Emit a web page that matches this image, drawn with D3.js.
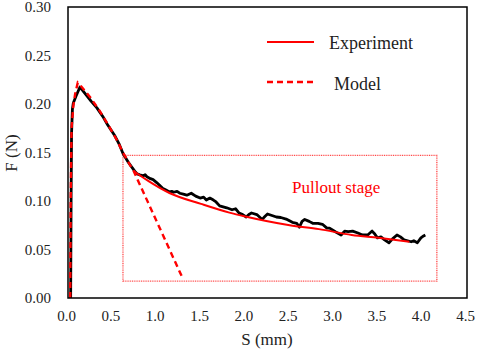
<!DOCTYPE html>
<html>
<head>
<meta charset="utf-8">
<script src="https://cdn.jsdelivr.net/npm/d3@7"></script>
<style>
html,body{margin:0;padding:0;background:#fff;}
svg text{font-family:"Liberation Serif","Times New Roman","DejaVu Serif",serif !important;}
</style>
</head>
<body>
<svg id="chart" width="477" height="351"></svg>
<script>
// Tick labels
const xTicks = [0, 0.5, 1.0, 1.5, 2.0, 2.5, 3.0, 3.5, 4.0, 4.5];
const yTicks = [0, 0.05, 0.10, 0.15, 0.20, 0.25, 0.30];

// Measured (noisy) data: S (mm), F (N)
const measuredS = [0.03,0.035,0.04,0.05,0.06,0.09,0.135,0.2,0.26,0.326,0.4,0.45,0.53,0.58,0.62,0.68,0.75,0.78,0.81,0.85,0.87,0.89,0.93,0.96,1.0,1.03,1.07,1.11,1.15,1.17,1.19,1.23,1.26,1.30,1.34,1.39,1.44,1.49,1.53,1.56,1.60,1.64,1.67,1.71,1.75,1.79,1.85,1.89,1.93,1.97,2.01,2.04,2.07,2.13,2.19,2.22,2.25,2.30,2.35,2.40,2.46,2.53,2.58,2.61,2.64,2.67,2.72,2.76,2.82,2.87,2.92,2.95,3.02,3.08,3.12,3.16,3.21,3.27,3.32,3.38,3.43,3.46,3.49,3.53,3.57,3.62,3.66,3.71,3.75,3.79,3.83,3.87,3.90,3.94,3.98,4.01,4.03];
const measuredF = [0,0.10,0.17,0.195,0.201,0.208,0.2175,0.210,0.203,0.196,0.186,0.178,0.167,0.158,0.149,0.140,0.131,0.128,0.127,0.126,0.127,0.125,0.123,0.122,0.119,0.1165,0.113,0.111,0.109,0.110,0.109,0.110,0.108,0.107,0.106,0.108,0.105,0.103,0.104,0.101,0.103,0.101,0.099,0.095,0.094,0.093,0.091,0.092,0.0876,0.086,0.0835,0.086,0.0876,0.086,0.081,0.084,0.0866,0.085,0.0835,0.083,0.0814,0.078,0.077,0.073,0.079,0.081,0.079,0.077,0.077,0.076,0.072,0.072,0.068,0.065,0.069,0.0685,0.069,0.067,0.065,0.065,0.069,0.066,0.062,0.063,0.060,0.057,0.061,0.065,0.063,0.060,0.059,0.058,0.059,0.057,0.062,0.064,0.065];

// Experiment fit (solid red)
const experimentS = [0.74,0.9,1.15,1.5,1.82,2.0,2.5,2.83,3.2,3.5,3.85];
const experimentF = [0.131,0.121,0.108,0.097,0.088,0.084,0.075,0.071,0.065,0.062,0.058];

// Model (dashed red)
const modelS = [0.025,0.03,0.04,0.06,0.08,0.11,0.15,0.25,0.35,0.45,0.55,0.62,0.70,0.74,1.29];
const modelF = [0,0.10,0.175,0.198,0.210,0.222,0.218,0.207,0.194,0.179,0.163,0.150,0.137,0.131,0.021];

// Pullout stage box (data units)
const boxS = [0.62, 4.16];
const boxF = [0.0175, 0.147];

const FONT = '"Liberation Serif","Times New Roman","DejaVu Serif",serif';
const svg = d3.select("#chart");
const L = 68, R = 467, T = 7, B = 298;
const x = d3.scaleLinear().domain([0, 4.5]).range([L, R]);
const y = d3.scaleLinear().domain([0, 0.30]).range([B, T]);

// Pullout box
svg.append("rect")
  .attr("x", x(boxS[0])).attr("y", y(boxF[1]))
  .attr("width", x(boxS[1]) - x(boxS[0]))
  .attr("height", y(boxF[0]) - y(boxF[1]))
  .attr("fill", "none").attr("stroke", "#ff4a4a")
  .attr("stroke-width", 1.3).attr("stroke-dasharray", "1,0.8");

svg.append("text").attr("x", 292).attr("y", 193).attr("font-family", FONT)
  .attr("fill", "red").attr("font-size", 17).text("Pullout stage");

const line = d3.line().x(d => x(d[0])).y(d => y(d[1]));

svg.append("path")
  .datum(measuredS.map((s, i) => [s, measuredF[i]]))
  .attr("d", line).attr("fill", "none").attr("stroke", "#000")
  .attr("stroke-width", 2.8).attr("stroke-linejoin", "round");

svg.append("path")
  .datum(experimentS.map((s, i) => [s, experimentF[i]]))
  .attr("d", d3.line().curve(d3.curveMonotoneX).x(d => x(d[0])).y(d => y(d[1])))
  .attr("fill", "none").attr("stroke", "red").attr("stroke-width", 2);

svg.append("path")
  .datum(modelS.map((s, i) => [s, modelF[i]]))
  .attr("d", line).attr("fill", "none").attr("stroke", "red")
  .attr("stroke-width", 2.4).attr("stroke-dasharray", "6,4");

// Frame
svg.append("rect").attr("x", L).attr("y", T).attr("width", R - L).attr("height", B - T)
  .attr("fill", "none").attr("stroke", "#000").attr("stroke-width", 1.5);

// Axes labels (ticks)
const xAxis = d3.axisBottom(x).tickValues(xTicks).tickSize(0).tickPadding(12)
  .tickFormat(d3.format(".1f"));
const gx = svg.append("g").attr("transform", `translate(-2,${B})`).call(xAxis);
gx.attr("font-family", FONT).attr("font-size", 15);
gx.select(".domain").remove();
gx.selectAll("text").attr("fill", "#222");

const yAxis = d3.axisLeft(y).tickValues(yTicks).tickSize(0).tickPadding(17)
  .tickFormat(d3.format(".2f"));
const gy = svg.append("g").attr("transform", `translate(${L},0)`).call(yAxis);
gy.attr("font-family", FONT).attr("font-size", 15);
gy.select(".domain").remove();
gy.selectAll("text").attr("fill", "#222");

svg.append("text").attr("x", 267).attr("y", 345).attr("text-anchor", "middle").attr("font-family", FONT)
  .attr("font-size", 17).attr("fill", "#222").text("S (mm)");
svg.append("text").attr("transform", "translate(17,153) rotate(-90)").attr("font-family", FONT)
  .attr("text-anchor", "middle").attr("font-size", 17).attr("fill", "#222").text("F (N)");

// Legend
svg.append("line").attr("x1", 267).attr("x2", 314).attr("y1", 42).attr("y2", 42)
  .attr("stroke", "red").attr("stroke-width", 2);
svg.append("text").attr("x", 329).attr("y", 49).attr("font-family", FONT).attr("font-size", 18).attr("fill", "#222").text("Experiment");
svg.append("line").attr("x1", 267).attr("x2", 314).attr("y1", 82).attr("y2", 82)
  .attr("stroke", "red").attr("stroke-width", 2.4).attr("stroke-dasharray", "6,4");
svg.append("text").attr("x", 334).attr("y", 90).attr("font-family", FONT).attr("font-size", 18).attr("fill", "#222").text("Model");
</script>
</body>
</html>
